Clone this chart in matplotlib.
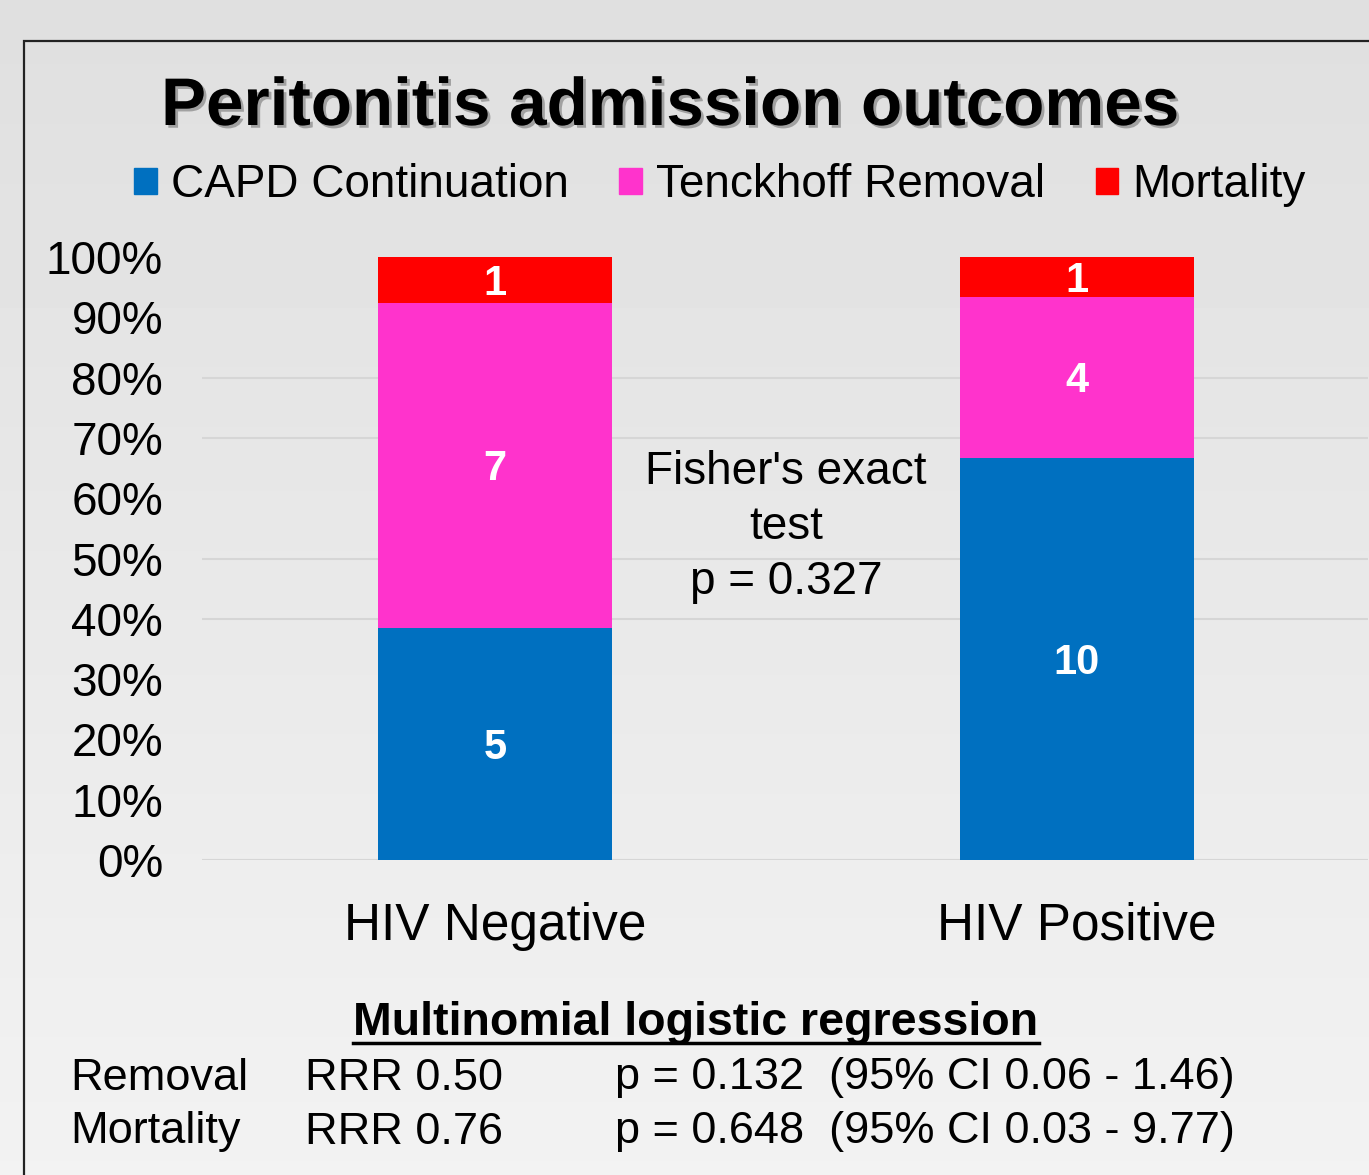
import numpy as np
import matplotlib
matplotlib.use('Agg')
import matplotlib.pyplot as plt
import matplotlib.patheffects as pe
from matplotlib.patches import Patch, Rectangle
from matplotlib.lines import Line2D

plt.rcParams['font.family'] = ['Liberation Sans', 'DejaVu Sans']

groups = ['HIV Negative', 'HIV Positive']
series = ['CAPD Continuation', 'Tenckhoff Removal', 'Mortality']
capd = [5, 10]
removal = [7, 4]
mortality = [1, 1]
colors = ['#0070C0', '#FF33CC', '#FF0000']

reg_rows = [['Removal', 'RRR 0.50', 'p = 0.132  (95% CI 0.06 - 1.46)'],
            ['Mortality', 'RRR 0.76', 'p = 0.648  (95% CI 0.03 - 9.77)']]

W, H = 1369, 1175
fig = plt.figure(figsize=(W / 100, H / 100), dpi=100)

# background gradient
bg = fig.add_axes([0, 0, 1, 1], zorder=-10)
grad = np.linspace(0.875, 0.95, 256).reshape(-1, 1)
bg.imshow(grad, cmap='gray', vmin=0, vmax=1, aspect='auto', extent=[0, 1, 0, 1])
bg.set_xlim(0, 1)
bg.set_ylim(0, 1)
bg.axis('off')
bg.add_patch(Rectangle((24 / W, -0.05), 1.2, 1 - 41 / H + 0.05, fill=False,
                       edgecolor='#222222', linewidth=1.6))

ax = fig.add_axes([202 / W, 315 / H, 1166 / W, 603 / H])
ax.patch.set_alpha(0)

data = np.array([capd, removal, mortality], dtype=float)
pct = data / data.sum(axis=0) * 100
x = np.arange(len(groups))
bottom = np.zeros(len(groups))
for i in range(len(series)):
    ax.bar(x, pct[i], 0.402, bottom=bottom, color=colors[i], label=series[i], zorder=3)
    for j in range(len(groups)):
        ax.text(x[j], bottom[j] + pct[i][j] / 2 - 0.6, str(int(data[i][j])), ha='center',
                va='center', color='white', fontsize=30, fontweight='bold', zorder=4)
    bottom += pct[i]

for g in [0, 40, 50, 70, 80]:
    ax.axhline(g, color='#d6d6d6', linewidth=1.5, zorder=1)

ax.set_xlim(-0.503, 1.5)
ax.set_ylim(0, 100)
ax.set_yticks(np.arange(0, 101, 10))
ax.set_yticklabels(['%d%%' % v for v in range(0, 101, 10)], fontsize=33)
ax.set_xticks(x)
ax.set_xticklabels(groups, fontsize=37)
ax.tick_params(axis='y', length=0, pad=28)
ax.tick_params(axis='x', length=0, pad=30)
for s in ax.spines.values():
    s.set_visible(False)

ax.text(0.5, 55.2, "Fisher's exact\ntest\np = 0.327", ha='center', va='center',
        fontsize=33, linespacing=1.32)

fig.text(670 / W, 1 - 108 / H, 'Peritonitis admission outcomes', ha='center', va='center',
         fontsize=48.5, fontweight='bold',
         path_effects=[pe.SimplePatchShadow(offset=(2, -2), shadow_rgbFace='#777777', alpha=0.6),
                       pe.Normal()])

handles = [Patch(color=c) for c in colors]
fig.legend(handles, series, loc='center', bbox_to_anchor=(720 / W, 1 - 185 / H), ncol=3,
           frameon=False, fontsize=33, handlelength=0.5, handleheight=0.5,
           handletextpad=0.3, columnspacing=1.1)

t = fig.text(696 / W, 1 - 1023 / H, 'Multinomial logistic regression', ha='center',
             va='center', fontsize=33.5, fontweight='bold')
fig.canvas.draw()
bb = t.get_window_extent().transformed(fig.transFigure.inverted())
fig.add_artist(Line2D([bb.x0, bb.x1], [bb.y0 + 0.002, bb.y0 + 0.002], color='black',
                      linewidth=2.5, transform=fig.transFigure))

col_x = [70, 305, 615]
row_y = [1078, 1132]
for r, row in enumerate(reg_rows):
    for c, txt in enumerate(row):
        fig.text(col_x[c] / W, 1 - row_y[r] / H, txt, ha='left', va='center', fontsize=32.5)

fig.savefig('out.png', dpi=100)
